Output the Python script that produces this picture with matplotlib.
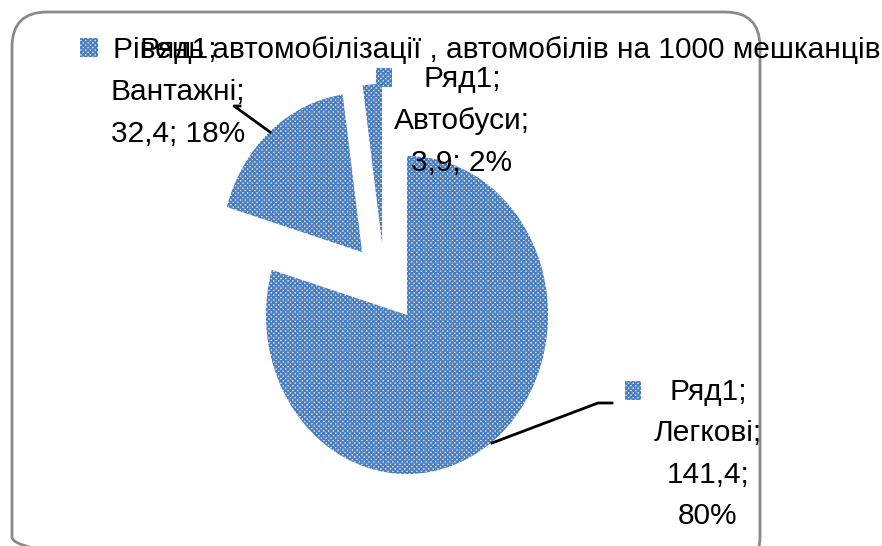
import matplotlib
matplotlib.use("Agg")
import matplotlib.pyplot as plt
from matplotlib.patches import FancyBboxPatch
from matplotlib import font_manager

# ---- data ----
series_name = "Рівень автомобілізації , автомобілів на 1000 мешканців"
series_label = "Ряд1"
categories = ["Легкові", "Вантажні", "Автобуси"]
values = [141.4, 32.4, 3.9]

# ---- style ----
W, H = 882, 546
BLUE = "#4a7ebf"
FONT = ["Liberation Sans", "DejaVu Sans"]
FS = 21.5
plt.rcParams['hatch.linewidth'] = 1.3
plt.rcParams['font.family'] = FONT

fig = plt.figure(figsize=(W / 100, H / 100), dpi=100)

# pie axes: unit radius = 141 px horizontally, 159 px vertically
cx, cy, rx, ry = 407, 315, 141, 159
lim = 2.0
axp = fig.add_axes([(cx - lim * rx) / W, (H - cy - lim * ry) / H,
                    2 * lim * rx / W, 2 * lim * ry / H])
axp.axis('off')
wedges, _ = axp.pie(values, startangle=90, counterclock=False, radius=1,
                    wedgeprops=dict(facecolor="#dfe7f3", edgecolor=BLUE,
                                    hatch="xxxxxxx", linewidth=0))
axp.set_xlim(-lim, lim)
axp.set_ylim(-lim, lim)
axp.set_aspect('auto')
# exploded slices (offsets in radius units)
offsets = [(0, 0), (-0.319, 0.396), (-0.177, 0.453)]
for w, off in zip(wedges, offsets):
    w.set_center(off)

# overlay axes in pixel coords
ax = fig.add_axes([0, 0, 1, 1], zorder=5)
ax.set_xlim(0, W)
ax.set_ylim(H, 0)
ax.axis('off')
ax.patch.set_alpha(0)

# chart border
box = FancyBboxPatch((12 + 35, 12 + 35), 748 - 70, 560 - 70,
                     boxstyle="round,pad=35", linewidth=2,
                     edgecolor="#8a8a8a", facecolor="none", clip_on=False)
ax.add_patch(box)

total = sum(values)
def fmt(v):
    return f"{v:.1f}".replace('.', ',')
def pct(v):
    return f"{round(100 * v / total):d}%"

# legend
fig.legend(handles=[wedges[0]], labels=[series_name], loc='center left',
           bbox_to_anchor=(80 / W, 1 - 50 / H), frameon=False,
           fontsize=FS, handlelength=0.6, handleheight=0.65,
           handletextpad=0.5, borderpad=0, borderaxespad=0)

def key(x, y):
    ax.add_patch(plt.Rectangle((x, y), 16, 19, facecolor="#dfe7f3",
                               edgecolor=BLUE, hatch="xxxxxxx", linewidth=0))

# labels
LS = 1.62
lab0 = f"{series_label};\n{categories[0]};\n{fmt(values[0])};\n{pct(values[0])}"
ax.text(708, 454, lab0, ha='center', va='center', fontsize=FS, linespacing=LS)
key(625, 381)
ax.plot([492, 598, 612], [443, 403, 403], color='black', lw=2)

lab1 = f"{series_label};\n{categories[1]};\n{fmt(values[1])}; {pct(values[1])}"
ax.text(178, 92, lab1, ha='center', va='center', fontsize=FS, linespacing=LS)
ax.plot([270, 234, 240], [132, 106, 106], color='black', lw=2)

lab2 = f"{series_label};\n{categories[2]};\n{fmt(values[2])}; {pct(values[2])}"
ax.text(462, 121, lab2, ha='center', va='center', fontsize=FS, linespacing=LS)
key(376, 68)

fig.savefig("out.png", dpi=100)
